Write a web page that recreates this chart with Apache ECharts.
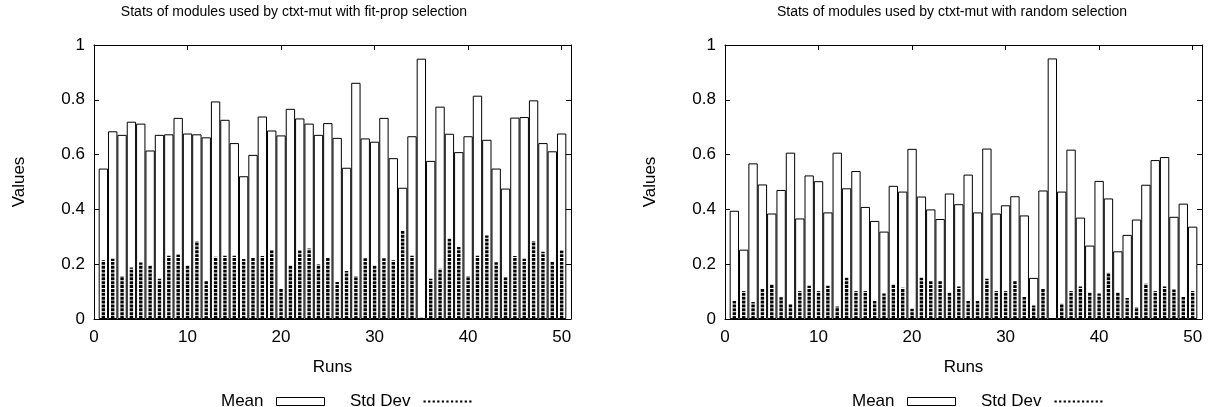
<!DOCTYPE html>
<html>
<head>
<meta charset="utf-8">
<title>Stats of modules used by ctxt-mut</title>
<script src="https://cdn.jsdelivr.net/npm/echarts@6/dist/echarts.min.js"></script>
<style>
  html, body { margin: 0; padding: 0; background: #fff; }
  #chart { width: 1210px; height: 407px; }
</style>
</head>
<body>
<div id="chart"></div>
<script>
// run numbers on the x axis
var runs = [1, 2, 3, 4, 5, 6, 7, 8, 9, 10, 11, 12, 13, 14, 15, 16, 17, 18, 19, 20,
  21, 22, 23, 24, 25, 26, 27, 28, 29, 30, 31, 32, 33, 34, 35, 36, 37, 38, 39, 40,
  41, 42, 43, 44, 45, 46, 47, 48, 49, 50];
var xTicks = [0, 10, 20, 30, 40, 50];

// left panel: fit-prop selection
var fitPropMean = [0.549, 0.685, 0.672, 0.720, 0.713, 0.615, 0.672, 0.674, 0.734, 0.677,
  0.674, 0.663, 0.794, 0.727, 0.642, 0.521, 0.599, 0.739, 0.688, 0.670,
  0.767, 0.732, 0.713, 0.672, 0.715, 0.661, 0.552, 0.862, 0.659, 0.647,
  0.734, 0.587, 0.479, 0.667, 0.950, 0.577, 0.775, 0.676, 0.609, 0.667,
  0.815, 0.654, 0.549, 0.476, 0.735, 0.737, 0.798, 0.642, 0.612, 0.677];
var fitPropStd = [0.214, 0.220, 0.156, 0.188, 0.206, 0.195, 0.147, 0.231, 0.235, 0.196,
  0.284, 0.139, 0.227, 0.231, 0.231, 0.219, 0.225, 0.230, 0.251, 0.113,
  0.195, 0.250, 0.257, 0.200, 0.225, 0.135, 0.175, 0.157, 0.222, 0.195,
  0.222, 0.214, 0.323, 0.231, 0.005, 0.147, 0.183, 0.295, 0.263, 0.157,
  0.231, 0.305, 0.207, 0.152, 0.230, 0.220, 0.285, 0.245, 0.210, 0.250];

// right panel: random selection
var randomMean = [0.395, 0.253, 0.568, 0.491, 0.385, 0.471, 0.607, 0.367, 0.524, 0.503,
  0.389, 0.607, 0.477, 0.540, 0.409, 0.358, 0.319, 0.486, 0.465, 0.621,
  0.447, 0.400, 0.365, 0.458, 0.419, 0.527, 0.389, 0.622, 0.385, 0.415,
  0.448, 0.378, 0.150, 0.469, 0.951, 0.465, 0.618, 0.370, 0.268, 0.504,
  0.440, 0.247, 0.307, 0.363, 0.490, 0.580, 0.591, 0.373, 0.421, 0.337];
var randomStd = [0.066, 0.102, 0.062, 0.113, 0.127, 0.079, 0.055, 0.102, 0.121, 0.102,
  0.121, 0.046, 0.151, 0.102, 0.102, 0.066, 0.093, 0.127, 0.114, 0.037,
  0.151, 0.139, 0.139, 0.097, 0.119, 0.066, 0.066, 0.147, 0.102, 0.102,
  0.139, 0.080, 0.049, 0.111, 0.000, 0.056, 0.102, 0.119, 0.097, 0.093,
  0.169, 0.097, 0.077, 0.044, 0.129, 0.102, 0.119, 0.108, 0.080, 0.102];

var panelTitles = ['Stats of modules used by ctxt-mut with fit-prop selection',
  'Stats of modules used by ctxt-mut with random selection'];

var FONT = '"Liberation Sans", Arial, Helvetica, sans-serif';
var plotLefts = [94, 725];
var plotWidth = 477;
var titleCenters = [294, 952];
var barW = plotWidth / 51;

// dotted line used as the Std Dev key
function dottedPath() {
  var p = 'path://';
  for (var i = 0; i < 11; i++) {
    var x = i * 4.5;
    p += 'M' + x + ',0h2.2v2.2h-2.2z';
  }
  return p;
}

function pairs(values) {
  var out = [];
  for (var i = 0; i < runs.length; i++) {
    out.push([runs[i], values[i]]);
  }
  return out;
}

var grids = [], xAxes = [], yAxes = [], series = [], legends = [], graphics = [];
var means = [fitPropMean, randomMean];
var stds = [fitPropStd, randomStd];

for (var k = 0; k < 2; k++) {
  grids.push({left: plotLefts[k], width: plotWidth, top: 45, height: 274});

  var lineStyle = {color: '#000', width: 1};
  xAxes.push({
    type: 'value', gridIndex: k, min: 0, max: 51, position: 'bottom',
    name: 'Runs', nameLocation: 'middle', nameGap: 40,
    nameTextStyle: {fontFamily: FONT, fontSize: 17, color: '#000'},
    axisLine: {show: true, onZero: false, lineStyle: lineStyle},
    axisTick: {show: true, inside: true, length: 5, lineStyle: lineStyle, customValues: xTicks},
    axisLabel: {fontFamily: FONT, fontSize: 17, color: '#000', margin: 10, customValues: xTicks},
    splitLine: {show: false}
  });
  xAxes.push({
    type: 'value', gridIndex: k, min: 0, max: 51, position: 'top',
    axisLine: {show: true, onZero: false, lineStyle: lineStyle},
    axisTick: {show: true, inside: true, length: 5, lineStyle: lineStyle, customValues: xTicks},
    axisLabel: {show: false},
    splitLine: {show: false}
  });
  yAxes.push({
    type: 'value', gridIndex: k, min: 0, max: 1, interval: 0.2, position: 'left',
    name: 'Values', nameLocation: 'middle', nameGap: 66,
    nameTextStyle: {fontFamily: FONT, fontSize: 17, color: '#000'},
    axisLine: {show: true, onZero: false, lineStyle: lineStyle},
    axisTick: {show: true, inside: true, length: 5, lineStyle: lineStyle},
    axisLabel: {fontFamily: FONT, fontSize: 17, color: '#000', margin: 9},
    splitLine: {show: false}
  });
  yAxes.push({
    type: 'value', gridIndex: k, min: 0, max: 1, interval: 0.2, position: 'right',
    axisLine: {show: true, onZero: false, lineStyle: lineStyle},
    axisTick: {show: true, inside: true, length: 5, lineStyle: lineStyle},
    axisLabel: {show: false},
    splitLine: {show: false}
  });

  series.push({
    type: 'bar', name: 'Mean',
    xAxisIndex: 2 * k, yAxisIndex: 2 * k,
    data: pairs(means[k]),
    barWidth: barW,
    itemStyle: {color: '#fff', borderColor: '#000', borderWidth: 1},
    silent: true
  });
  series.push({
    type: 'pictorialBar', name: 'Std Dev',
    xAxisIndex: 2 * k, yAxisIndex: 2 * k,
    data: pairs(stds[k]),
    barWidth: barW,
    symbol: 'rect', symbolSize: [3.4, 2.9],
    symbolRepeat: true, symbolMargin: 0.5, symbolClip: true, symbolPosition: 'start',
    itemStyle: {color: '#000'},
    z: 3, silent: true
  });

  legends.push({
    left: 216 + (plotLefts[k] - plotLefts[0]), top: 388,
    orient: 'horizontal', align: 'right',
    itemWidth: 48, itemHeight: 8, itemGap: 25,
    selectedMode: false,
    textStyle: {fontFamily: FONT, fontSize: 17, color: '#000', padding: [0, 8, 0, 0]},
    data: [
      {name: 'Mean', icon: 'rect', itemStyle: {color: '#fff', borderColor: '#000', borderWidth: 1}},
      {name: 'Std Dev', icon: dottedPath(), itemStyle: {color: '#000'}}
    ]
  });

  graphics.push({
    type: 'text', x: titleCenters[k], y: 12,
    style: {text: panelTitles[k], fontFamily: FONT, fontSize: 14, fill: '#000',
      align: 'center', verticalAlign: 'middle'}
  });
}

var chart = echarts.init(document.getElementById('chart'), null, {renderer: 'canvas'});
chart.setOption({
  backgroundColor: '#fff',
  animation: false,
  grid: grids,
  xAxis: xAxes,
  yAxis: yAxes,
  legend: legends,
  graphic: graphics,
  series: series
});
</script>
</body>
</html>
